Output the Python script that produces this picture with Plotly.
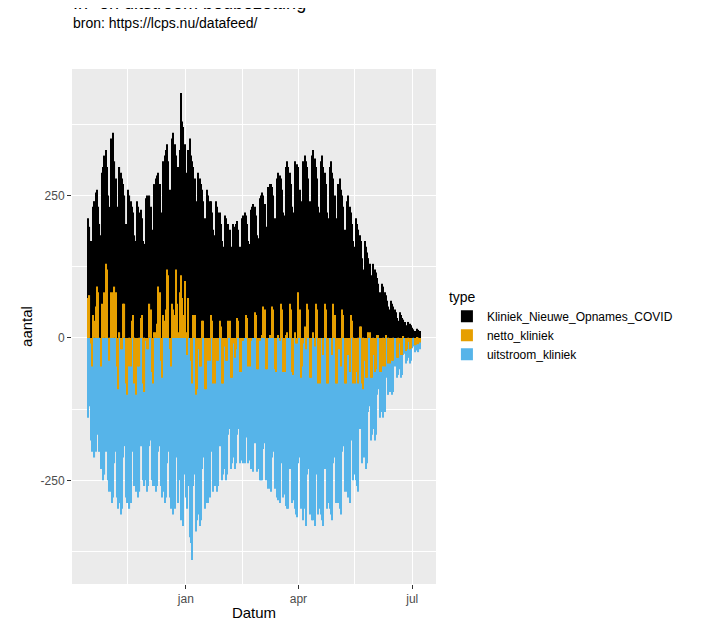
import plotly.graph_objects as go
import pandas as pd

start = "2020-10-15"
inflow = [210,195,170,150,230,240,255, 260,230,200,180,290,300,320, 330,300,250,230,350,340,360,
 310,280,230,210,300,290,280, 270,250,200,190,260,250,240, 230,220,180,170,240,230,220,
 225,210,170,165,245,250,240, 250,230,190,180,270,280,285, 290,270,220,210,310,320,330,
 340,310,260,250,350,360,340, 320,270,300,330,430,380,370, 340,290,270,330,350,320,310,
 300,280,240,230,290,280,270, 260,240,210,200,260,250,240, 240,220,190,180,240,230,220,
 220,200,170,160,215,210,200, 200,190,160,150,200,195,200, 205,190,160,150,210,215,220,
 215,200,170,165,225,230,235, 230,215,180,175,245,250,255, 250,235,195,190,265,270,270,
 265,250,210,200,280,290,285, 280,260,220,215,300,310,300, 290,270,230,220,310,300,305,
 300,260,230,240,310,320,310, 300,280,240,230,320,330,315, 300,280,230,220,310,320,300,
 290,270,220,210,300,310,290, 280,250,210,200,270,280,260, 250,230,190,180,240,250,230,
 220,200,170,160,210,200,190, 180,170,140,120,170,160,150, 140,130,110,100,130,120,115,
 105,95,80,70,95,90,80, 75,65,55,50,65,60,55, 50,45,35,30,45,40,35, 32,28,22,20,28,25,22,
 18,15,12,10,16,14,12]
outflow = [140,120,180,200,190,210,200, 170,150,200,230,230,250,240, 200,180,250,270,270,290,280,
 220,200,280,300,290,310,300, 210,190,280,290,280,300,290, 200,180,260,270,260,280,270,
 190,170,250,260,250,270,260, 190,180,250,260,260,270,260, 200,190,260,280,270,290,280,
 220,200,280,300,290,310,300, 200,210,290,250,320,310,330, 240,280,300,260,350,360,390,
 260,240,340,320,310,330,320, 230,210,300,290,270,290,280, 200,190,270,260,250,270,260,
 190,180,250,240,230,250,240, 170,160,230,220,210,230,220, 170,160,220,210,215,220,220,
 175,165,220,215,230,230,235, 185,175,235,230,250,250,250, 195,185,250,245,265,265,270,
 210,200,265,260,280,285,290, 220,210,280,275,295,300,300, 230,220,290,285,300,310,315,
 220,210,300,290,320,300,330, 240,230,310,300,320,320,330, 240,230,310,300,310,320,330,
 230,220,300,290,300,310,320, 220,210,290,280,290,300,310, 200,190,270,260,270,280,290,
 180,170,250,240,250,260,270, 160,150,220,210,210,230,220, 130,120,180,170,160,180,170,
 100,90,140,130,120,140,130, 70,65,100,95,85,100,95, 50,45,70,65,55,70,65, 30,28,45,40,35,45,40,
 18,15,25,22,18,25,20]
dates = pd.date_range(start, periods=len(inflow), freq="D")
uitstroom = [-v for v in outflow]
netto = [a - b for a, b in zip(inflow, outflow)]

fig = go.Figure()
fig.add_bar(x=dates, y=inflow, name="Kliniek_Nieuwe_Opnames_COVID", marker_color="black", legendrank=1)
fig.add_bar(x=dates, y=uitstroom, name="uitstroom_kliniek", marker_color="#56B4E9", legendrank=3)
fig.add_bar(x=dates, y=netto, name="netto_kliniek", marker_color="#E69F00", legendrank=2)
fig.update_traces(marker_line_width=0)

fig.update_layout(
    width=727, height=630, barmode="overlay", bargap=0.1,
    paper_bgcolor="white", plot_bgcolor="#EBEBEB",
    margin=dict(l=64, r=299, t=61, b=54, autoexpand=False),
    font=dict(family="Liberation Sans, Arial", size=12, color="#4D4D4D"),
    legend=dict(title=dict(text="type", font=dict(size=14, color="black")), x=1.03, y=0.5, yanchor="middle",
                font=dict(size=12, color="black"), itemsizing="constant"),
    annotations=[
        dict(text="In- en uitstroom bedbezetting", x=64, y=8, xref="paper", yref="paper", showarrow=False),
    ],
)
fig.layout.annotations = []
fig.add_annotation(text="In- en uitstroom bedbezetting", xref="paper", yref="paper", x=-0.003, y=1.105,
                   xanchor="left", yanchor="bottom", showarrow=False, font=dict(size=18, color="black"))
fig.add_annotation(text="bron: https://lcps.nu/datafeed/", xref="paper", yref="paper", x=-0.003, y=1.07,
                   xanchor="left", yanchor="bottom", showarrow=False, font=dict(size=14, color="black"))
fig.update_xaxes(range=["2020-10-02", "2021-07-20"], tickvals=["2021-01-01", "2021-04-01", "2021-07-01"],
                 ticktext=["jan", "apr", "jul"], gridcolor="white", gridwidth=1.2, zeroline=False,
                 ticks="outside", ticklen=4, tickcolor="#333", showline=False, automargin=False,
                 title=dict(text="Datum", font=dict(size=15, color="black"), standoff=2),
                 minor=dict(tickvals=["2020-11-15", "2021-02-15", "2021-05-16"], showgrid=True, gridcolor="white", gridwidth=0.6))
fig.update_yaxes(range=[-432, 472], tickvals=[-250, 0, 250], ticktext=["-250", "0", "250"],
                 gridcolor="white", gridwidth=1.2, zeroline=False, ticks="outside", ticklen=4, tickcolor="#333",
                 automargin=False,
                 title=dict(text="aantal", font=dict(size=15, color="black"), standoff=4),
                 minor=dict(tickvals=[-375, -125, 125, 375], showgrid=True, gridcolor="white", gridwidth=0.6))
fig.write_html("out.html")
